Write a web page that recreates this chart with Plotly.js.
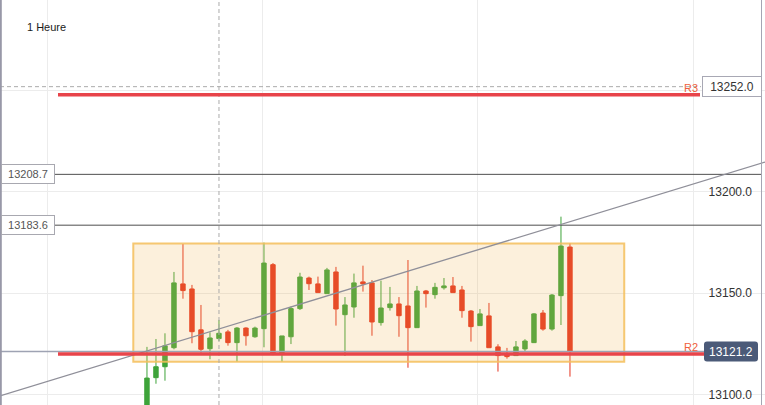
<!DOCTYPE html>
<html>
<head>
<meta charset="utf-8">
<script src="https://cdn.plot.ly/plotly-3.0.1.min.js"></script>
<style>html,body{margin:0;padding:0;background:#fff;}#chart{width:765px;height:405px;}</style>
</head>
<body>
<div id="chart"></div>
<script>
// ---- data (hourly candles) ----
const candleIndex = [0,1,2,3,4,5,6,7,8,9,10,11,12,13,14,15,16,17,18,19,20,21,22,23,24,25,26,27,28,29,30,31,32,33,34,35,36,37,38,39,40,41,42,43,44,45,46,47];
const openPrices  = [13090,13108.3,13113.7,13123.1,13154.6,13152.1,13131.9,13122.6,13127.6,13130.9,13125.6,13132.8,13128.5,13132.5,13164.1,13120.6,13128.5,13142.4,13157.5,13154.6,13149.8,13160.5,13139.4,13143.2,13155.6,13155.1,13135.5,13142.9,13144.7,13143.7,13133.0,13151.1,13149.3,13152.7,13153.6,13151.6,13141.2,13134.0,13138.8,13123.5,13119.7,13119.2,13122.5,13125.6,13140.2,13132.3,13148.8,13172.8];
const highPrices  = [13123.5,13127.4,13130.2,13160.5,13174.3,13154.1,13144.2,13130.7,13136.8,13131.9,13133.3,13133.2,13133.5,13175.0,13164.9,13128.9,13143.4,13160.1,13158.2,13158.2,13162.5,13163.0,13148.1,13159.7,13163.6,13156.5,13156.2,13153.1,13148.1,13166.4,13153.6,13151.6,13155.1,13157.5,13158.0,13153.6,13141.7,13142.2,13145.2,13124.8,13123.0,13126.4,13127.3,13140.2,13141.7,13149.6,13187.8,13174.7];
const lowPrices   = [13086,13105.3,13106.8,13122.3,13147.3,13125.3,13120.6,13117.4,13126.4,13124.1,13116.2,13124.1,13128.0,13123.3,13119.4,13116.2,13124.9,13141.7,13151.6,13150.3,13149.8,13134.0,13119.0,13137.9,13150.8,13129.0,13134.0,13141.4,13128.5,13113.2,13133.0,13142.9,13147.3,13151.8,13150.3,13137.9,13126.1,13134.0,13123.1,13111.3,13117.7,13119.2,13121.1,13125.4,13131.5,13131.5,13134.3,13108.8];
const closePrices = [13108.1,13113.7,13124.0,13155.1,13151.3,13131.0,13122.3,13127.9,13130.2,13125.6,13132.8,13129.0,13132.8,13164.9,13120.3,13128.9,13142.4,13158.0,13154.7,13150.3,13161.5,13142.2,13144.2,13155.1,13154.6,13135.8,13142.7,13144.7,13138.9,13133.0,13151.1,13149.8,13152.9,13153.6,13150.3,13141.4,13133.5,13139.8,13123.1,13119.2,13118.7,13123.5,13126.4,13139.8,13132.3,13149.1,13173.3,13121.2];

const yTickValues = [13100, 13150, 13200, 13250];
const yTickLabels = ['13100.0', '13150.0', '13200.0', ''];
const xGridValues = [-11, 12.89, 36.78, 60.67];

const timeframeLabel = '1 Heure';
const currentPrice = 13121.2;
const crosshairPrice = 13252.0;
const crosshairCandle = 8;
const levelR3 = 13248.0;
const levelR2 = 13120.0;
const levelLabels = ['R3', 'R2'];
const hLinePrices = [13208.7, 13183.6];
const rangeBox = {x0: -1.52, x1: 53.03, y0: 13116.2, y1: 13174.5};
const trendLine = {x0: -16.33, y0: 13099.3, x1: 68.67, y1: 13214.8};

// ---- chart ----
const W = 765, H = 405;
const px = v => v / W; // paper fraction from pixel x

const trace = {
  type: 'candlestick',
  x: candleIndex,
  open: openPrices, high: highPrices, low: lowPrices, close: closePrices,
  increasing: {line: {color: '#3ea33a', width: 1}, fillcolor: '#3ea33a'},
  decreasing: {line: {color: '#e5321e', width: 1}, fillcolor: '#e5321e'},
  whiskerwidth: 0,
  hoverinfo: 'skip',
  showlegend: false
};

const shapes = [
  // range box (tints candles)
  {type: 'rect', xref: 'x', yref: 'y', x0: rangeBox.x0, x1: rangeBox.x1, y0: rangeBox.y0, y1: rangeBox.y1,
   fillcolor: 'rgba(240,180,80,0.2)', line: {color: 'rgba(245,190,90,0.85)', width: 2}, layer: 'above'},
  // current price grey line
  {type: 'line', xref: 'paper', yref: 'y', x0: 0, x1: px(704), y0: currentPrice, y1: currentPrice,
   line: {color: '#9ea3b3', width: 1.5}, layer: 'above'},
  // crosshair
  {type: 'line', xref: 'x', yref: 'paper', x0: crosshairCandle, x1: crosshairCandle, y0: 0, y1: 1,
   line: {color: '#ababab', width: 1, dash: '4px,3px'}, layer: 'above'},
  {type: 'line', xref: 'paper', yref: 'y', x0: 0, x1: px(701), y0: crosshairPrice, y1: crosshairPrice,
   line: {color: '#ababab', width: 1, dash: '4px,3px'}, layer: 'above'},
  // black horizontal lines
  {type: 'line', xref: 'paper', yref: 'y', x0: px(55), x1: px(761), y0: hLinePrices[0], y1: hLinePrices[0],
   line: {color: '#4e4e4e', width: 1}, layer: 'above'},
  {type: 'line', xref: 'paper', yref: 'y', x0: px(55), x1: px(761), y0: hLinePrices[1], y1: hLinePrices[1],
   line: {color: '#4e4e4e', width: 1}, layer: 'above'},
  // trend line
  {type: 'line', xref: 'x', yref: 'y', x0: trendLine.x0, y0: trendLine.y0, x1: trendLine.x1, y1: trendLine.y1,
   line: {color: '#8f8f99', width: 1.3}, layer: 'above'},
  // R3 / R2 levels
  {type: 'line', xref: 'paper', yref: 'y', x0: px(58), x1: px(700), y0: levelR3, y1: levelR3,
   line: {color: '#e8444a', width: 3.5}, layer: 'above'},
  {type: 'line', xref: 'paper', yref: 'y', x0: px(58), x1: px(704), y0: levelR2, y1: levelR2,
   line: {color: '#e8444a', width: 3.5}, layer: 'above'},
  // borders
  {type: 'line', xref: 'paper', yref: 'paper', x0: px(0.8), x1: px(0.8), y0: 0, y1: 1,
   line: {color: '#9898a8', width: 2}, layer: 'above'},
  {type: 'line', xref: 'paper', yref: 'paper', x0: px(761.5), x1: px(761.5), y0: 0, y1: 1,
   line: {color: '#a5a5b3', width: 1}, layer: 'above'},
  // current price badge
  {type: 'path', xref: 'paper', yref: 'y', xsizemode: 'pixel', ysizemode: 'pixel',
   xanchor: px(731), yanchor: currentPrice,
   path: 'M -24,-10 L 24,-10 Q 27,-10 27,-7 L 27,7 Q 27,10 24,10 L -24,10 Q -27,10 -27,7 L -27,-7 Q -27,-10 -24,-10 Z',
   fillcolor: '#4b5a78', line: {width: 0}, layer: 'above'}
];

const font = '"Liberation Sans", Arial, sans-serif';
const annotations = [
  {xref: 'paper', yref: 'paper', x: px(25), y: 1 - 27 / H, xanchor: 'left', yanchor: 'middle',
   text: timeframeLabel, showarrow: false, font: {family: font, size: 11, color: '#1a1a1a'}},
  {xref: 'paper', yref: 'y', x: px(700), y: levelR3, xanchor: 'right', yanchor: 'bottom', yshift: -1,
   text: levelLabels[0], showarrow: false, font: {family: font, size: 11, color: '#f0603c'}},
  {xref: 'paper', yref: 'y', x: px(700), y: levelR2, xanchor: 'right', yanchor: 'bottom', yshift: -1,
   text: levelLabels[1], showarrow: false, font: {family: font, size: 11, color: '#f0603c'}},
  {xref: 'paper', yref: 'y', x: px(731.5), y: crosshairPrice, xanchor: 'center', yanchor: 'middle',
   text: crosshairPrice.toFixed(1), showarrow: false, bgcolor: '#ffffff', bordercolor: '#a8a8b4', borderwidth: 1,
   borderpad: 2, width: 54, height: 15, font: {family: font, size: 12, color: '#333333'}},
  {xref: 'paper', yref: 'y', x: px(731), y: currentPrice, xanchor: 'center', yanchor: 'middle',
   text: currentPrice.toFixed(1), showarrow: false, font: {family: font, size: 12, color: '#ffffff'}},
  {xref: 'paper', yref: 'y', x: px(28.3), y: hLinePrices[0], xanchor: 'center', yanchor: 'middle',
   text: hLinePrices[0].toFixed(1), showarrow: false, bgcolor: '#ffffff', bordercolor: '#a8a8b0', borderwidth: 1,
   borderpad: 1.5, width: 49, height: 15, font: {family: font, size: 11, color: '#555555'}},
  {xref: 'paper', yref: 'y', x: px(28.3), y: hLinePrices[1], xanchor: 'center', yanchor: 'middle',
   text: hLinePrices[1].toFixed(1), showarrow: false, bgcolor: '#ffffff', bordercolor: '#a8a8b0', borderwidth: 1,
   borderpad: 1.5, width: 49, height: 15, font: {family: font, size: 11, color: '#555555'}}
];

const layout = {
  width: W, height: H,
  margin: {l: 0, r: 0, t: 0, b: 0, pad: 0},
  paper_bgcolor: '#ffffff', plot_bgcolor: '#ffffff',
  font: {family: font},
  showlegend: false,
  hovermode: false,
  dragmode: false,
  xaxis: {
    range: [-16.33, 68.67], rangeslider: {visible: false},
    tickmode: 'array', tickvals: xGridValues, showticklabels: false, ticks: '',
    showgrid: true, gridcolor: '#ececec', gridwidth: 1, zeroline: false, showline: false, fixedrange: true
  },
  yaxis: {
    range: [13094.8, 13294.8], side: 'right', ticklabelposition: 'inside',
    tickmode: 'array', tickvals: yTickValues, ticktext: yTickLabels,
    tickfont: {family: font, size: 12, color: '#333333'}, ticklabelstandoff: 10,
    showgrid: true, gridcolor: '#ececec', gridwidth: 1, zeroline: false, showline: false, ticks: '', fixedrange: true
  },
  shapes: shapes,
  annotations: annotations
};

Plotly.newPlot('chart', [trace], layout, {staticPlot: true, displayModeBar: false});
</script>
</body>
</html>
